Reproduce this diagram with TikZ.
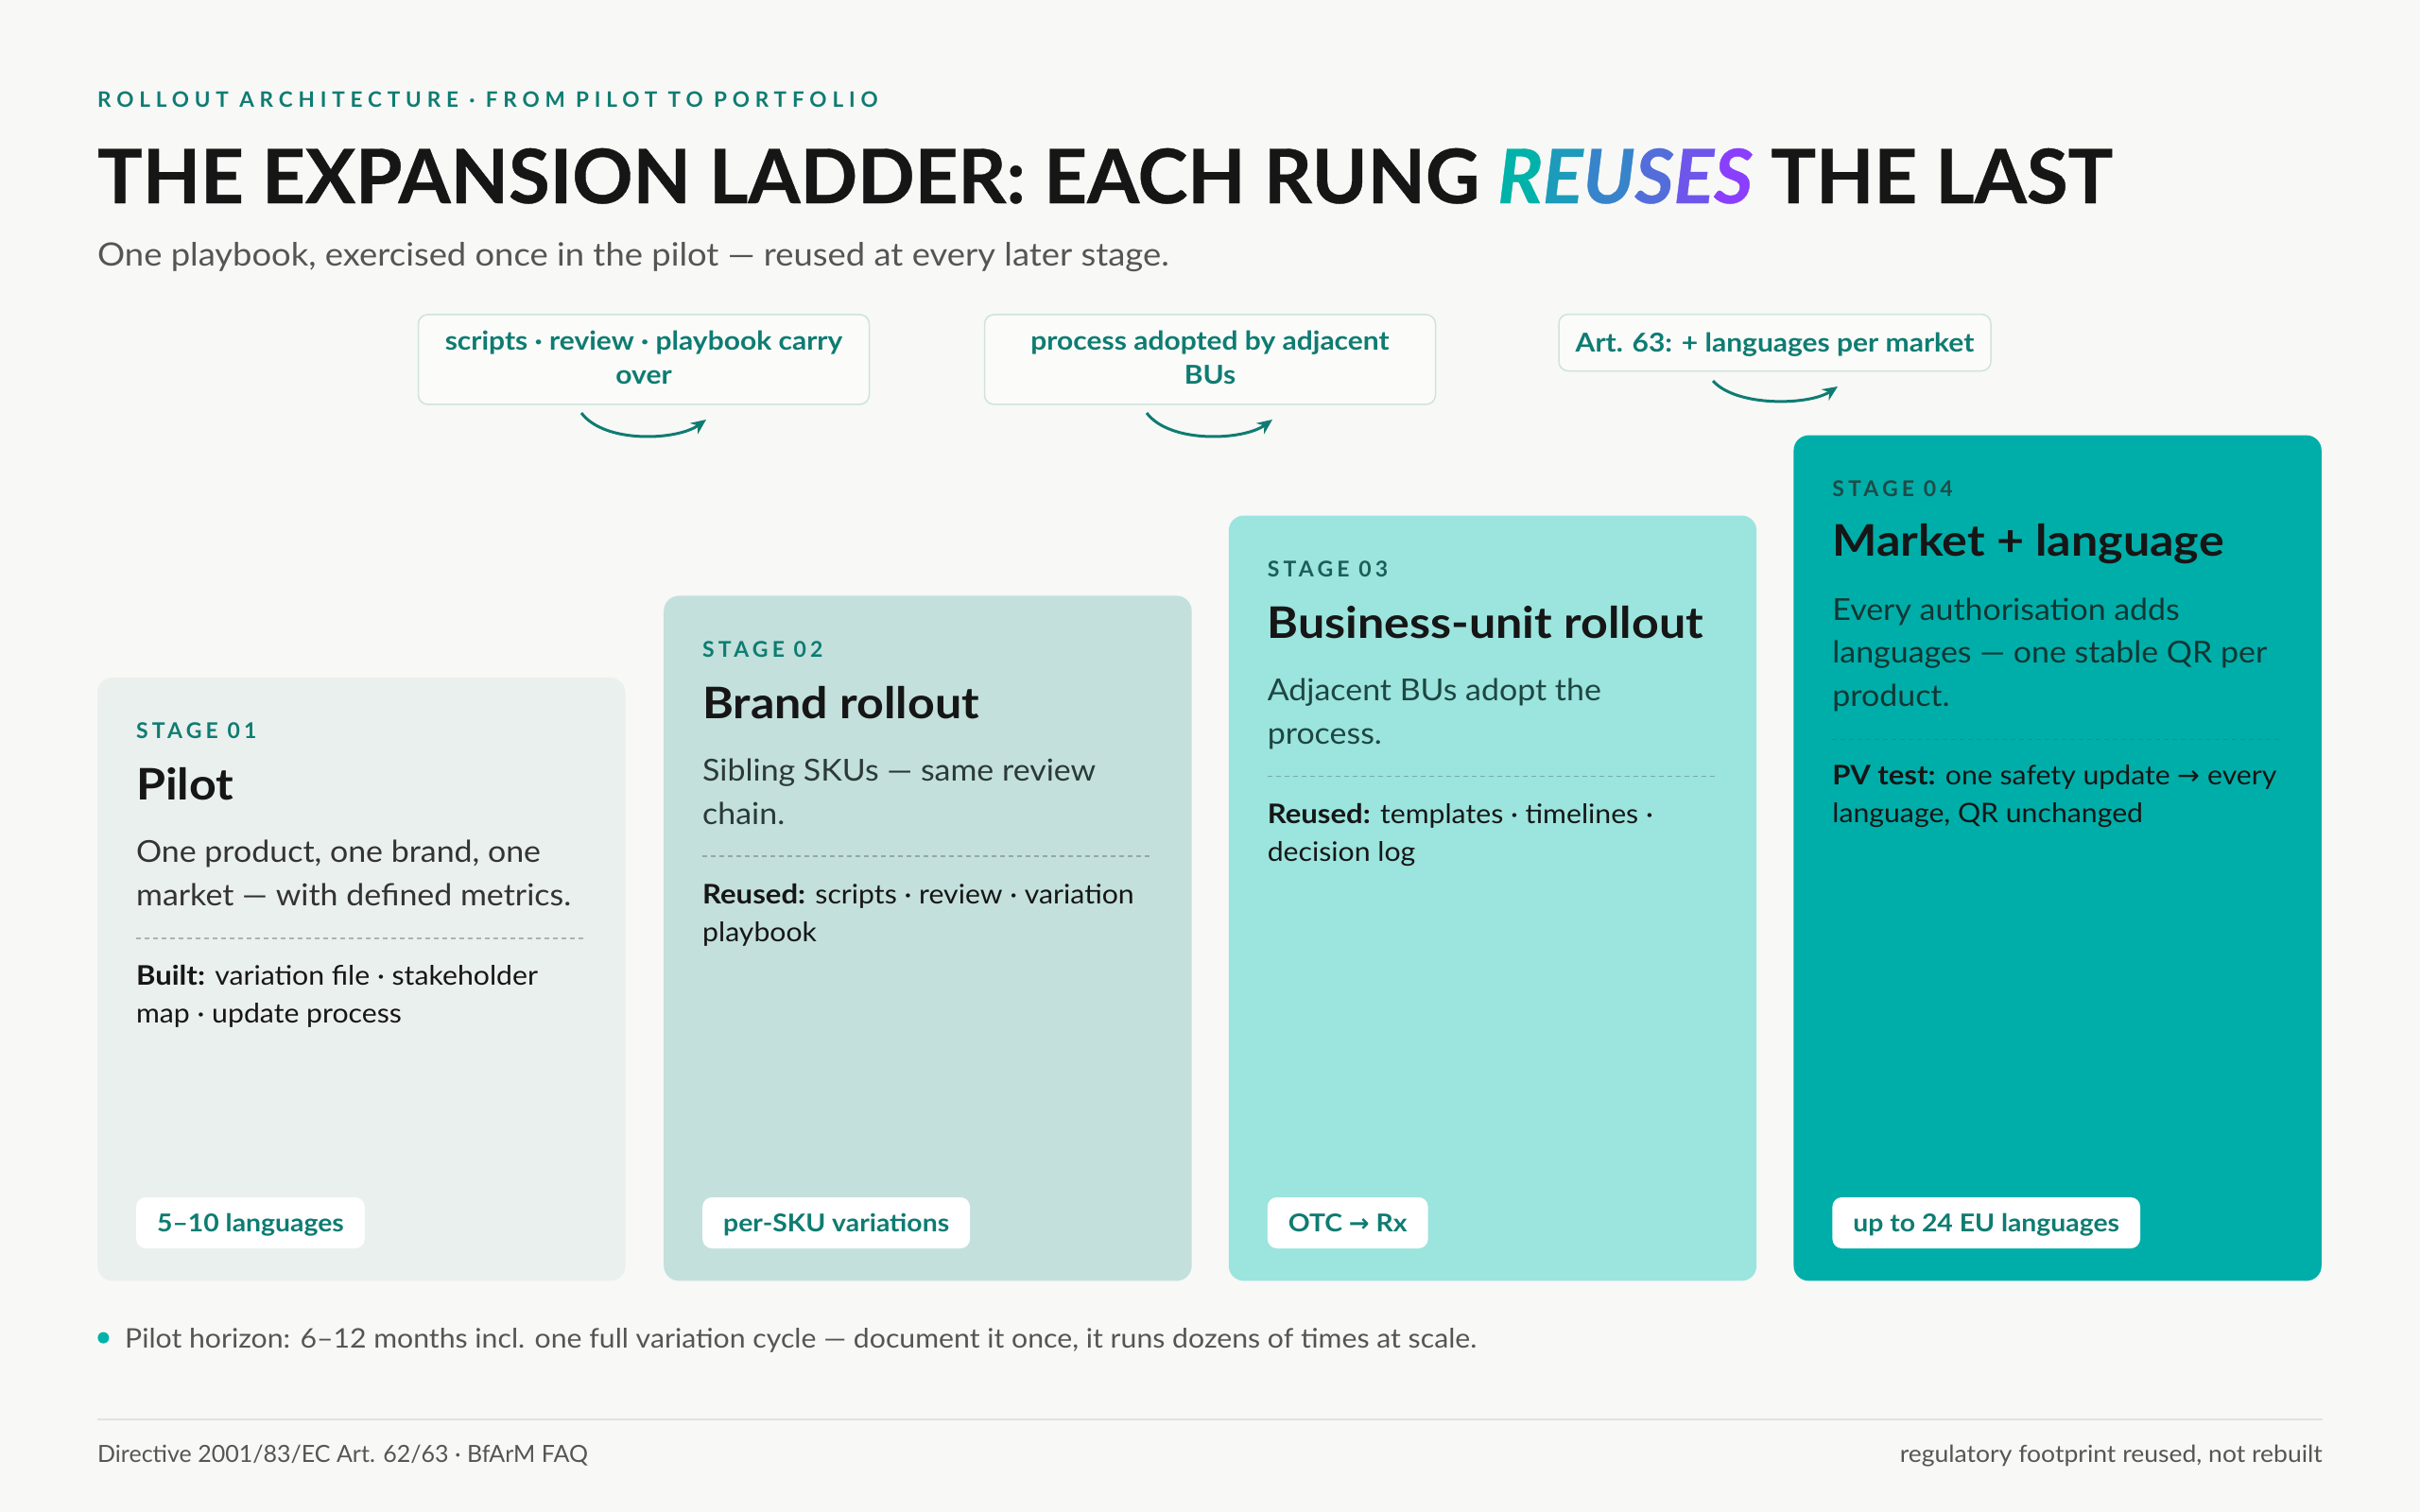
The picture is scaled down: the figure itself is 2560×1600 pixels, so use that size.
\documentclass[tikz,border=0pt]{standalone}
\usepackage{fontspec}
\setmainfont{Lato}[FakeStretch=1.06, BoldFeatures={FakeStretch=1.09}]
\newfontfamily\symfont{DejaVu Sans}
\newfontfamily\spacedfont{Lato}[LetterSpace=26]
\newfontfamily\stagefont{Lato}[LetterSpace=18]
\newfontfamily\headfont{Lato}[FakeBold=0.5]
\newfontfamily\plainfont{Lato}
\usetikzlibrary{arrows.meta}
\definecolor{bg}{HTML}{F8F8F6}
\definecolor{teal}{HTML}{0E7C72}
\definecolor{ink}{HTML}{161616}
\definecolor{subgrey}{HTML}{555555}
\definecolor{cA}{HTML}{EAF0EE}
\definecolor{cB}{HTML}{C3E0DC}
\definecolor{cC}{HTML}{9CE4DE}
\definecolor{cD}{HTML}{00AEA9}
\definecolor{labC}{HTML}{1B5E57}
\definecolor{labD}{HTML}{1F4B48}
\definecolor{dA}{HTML}{333333}
\definecolor{dB}{HTML}{2B3A38}
\definecolor{dC}{HTML}{1D4643}
\definecolor{dD}{HTML}{123734}
\definecolor{coborder}{HTML}{CFE3DE}
\definecolor{cofill}{HTML}{FBFBFA}
\definecolor{rulec}{HTML}{E2E2DF}
\definecolor{dashc}{HTML}{4A5A57}
\definecolor{gA}{HTML}{00B2A9}
\definecolor{gB}{HTML}{8A3FFC}
\colorlet{g0}{gA}
\colorlet{g1}{gB!20!gA}
\colorlet{g2}{gB!40!gA}
\colorlet{g3}{gB!60!gA}
\colorlet{g4}{gB!80!gA}
\colorlet{g5}{gB}
\newcommand\myarrow{{\symfont →}}
\begin{document}
\begin{tikzpicture}[x=1pt,y=-1pt,
  card/.style={rounded corners=16pt, inner sep=0pt, anchor=north west, minimum width=558.4pt},
  txt/.style={inner sep=0pt, anchor=base west},
  lbl/.style={txt, font=\stagefont\bfseries\fontsize{23}{23}\selectfont},
  ttl/.style={txt, text=ink, font=\bfseries\fontsize{46}{46}\selectfont},
  dsc/.style={txt, font=\fontsize{32}{32}\selectfont},
  bld/.style={txt, text=ink, font=\fontsize{28.5}{28.5}\selectfont},
  sep/.style={draw=dashc, draw opacity=0.4, line width=1.5pt, dash pattern=on 5pt off 4pt},
  pill/.style={fill=white, rounded corners=10pt, anchor=west, inner xsep=22pt, inner ysep=0pt,
    minimum height=54pt, text height=22pt, text depth=4pt, text=teal,
    font=\bfseries\fontsize{26}{26}\selectfont},
  callout/.style={draw=coborder, fill=cofill, line width=1.5pt, rounded corners=10pt, inner sep=0pt},
  cotxt/.style={inner sep=0pt, anchor=base, text=teal, font=\bfseries\fontsize{27.5}{27.5}\selectfont},
  flow/.style={draw=teal, line width=3pt, -{Stealth[length=16pt,width=14pt]}},
  foot/.style={inner sep=0pt, text=subgrey, font=\fontsize{25}{25}\selectfont}
]
\useasboundingbox (0,0) rectangle (2560,1600);
\fill[bg] (0,0) rectangle (2560,1600);

% header
\node[txt, text=teal, font=\spacedfont\bfseries\fontsize{22.5}{22.5}\selectfont] (eyebrow) at (103,114)
  {ROLLOUT ARCHITECTURE · FROM PILOT TO PORTFOLIO};
\node[txt, text=ink, font=\headfont\bfseries\fontsize{79.5}{79.5}\selectfont] (title) at (103,215)
  {THE EXPANSION LADDER: EACH RUNG \textit{{\color{g0}R}{\color{g1}E}{\color{g2}U}{\color{g3}S}{\color{g4}E}{\color{g5}S}} THE LAST};
\node[txt, text=subgrey, font=\addfontfeatures{FakeStretch=1.07}\fontsize{34}{34}\selectfont] (subtitle) at (103,281)
  {One playbook, exercised once in the pilot — reused at every later stage.};

% callouts
\node[callout, minimum width=477pt, minimum height=95pt] (co1) at (681,380.4) {};
\node[cotxt] (co1a) at (681,370) {scripts · review · playbook carry};
\node[cotxt] (co1b) at (681,406) {over};
\node[callout, minimum width=477pt, minimum height=95pt] (co2) at (1280,380.4) {};
\node[cotxt] (co2a) at (1280,370) {process adopted by adjacent};
\node[cotxt] (co2b) at (1280,406) {BUs};
\node[callout, minimum width=457pt, minimum height=60pt] (co3) at (1877.5,362.5) {};
\node[cotxt] (co3a) at (1877.5,372) {Art. 63: + languages per market};

\coordinate (a1s) at (615,437); \coordinate (a1e) at (747,444);
\coordinate (a2s) at (1213,437); \coordinate (a2e) at (1346,444);
\coordinate (a3s) at (1812,403); \coordinate (a3e) at (1944,409);
\draw[flow] (a1s) .. controls +(25,33) and +(-30,22) .. (a1e);
\draw[flow] (a2s) .. controls +(25,33) and +(-30,22) .. (a2e);
\draw[flow] (a3s) .. controls +(25,28) and +(-30,20) .. (a3e);

% card 1
\node[card, fill=cA, minimum height=638.4pt] (card1) at (102.9,716.8) {};
\node[lbl, text=teal] (s1) at ([shift={(41,65)}]card1.north west) {STAGE 01};
\node[ttl] (t1) at ([shift={(41,130)}]card1.north west) {Pilot};
\node[dsc, text=dA] (d1a) at ([shift={(41,196)}]card1.north west) {One product, one brand, one};
\node[dsc, text=dA] (d1b) at ([shift={(41,242)}]card1.north west) {market — with defined metrics.};
\draw[sep] ([shift={(41,276)}]card1.north west) -- ([shift={(517,276)}]card1.north west);
\node[bld] (b1a) at ([shift={(41,326)}]card1.north west) {\textbf{Built:} variation file · stakeholder};
\node[bld] (b1b) at ([shift={(41,366)}]card1.north west) {map · update process};
\node[pill] (p1) at (143.9,1294) {5–10 languages};

% card 2
\node[card, fill=cB, minimum height=725pt] (card2) at (702,630.2) {};
\node[lbl, text=teal] (s2) at ([shift={(41,65)}]card2.north west) {STAGE 02};
\node[ttl] (t2) at ([shift={(41,130)}]card2.north west) {Brand rollout};
\node[dsc, text=dB] (d2a) at ([shift={(41,196)}]card2.north west) {Sibling SKUs — same review};
\node[dsc, text=dB] (d2b) at ([shift={(41,242)}]card2.north west) {chain.};
\draw[sep] ([shift={(41,276)}]card2.north west) -- ([shift={(517,276)}]card2.north west);
\node[bld] (b2a) at ([shift={(41,326)}]card2.north west) {\textbf{Reused:} scripts · review · variation};
\node[bld] (b2b) at ([shift={(41,366)}]card2.north west) {playbook};
\node[pill] (p2) at (743,1294) {per-SKU variations};

% card 3
\node[card, fill=cC, minimum height=809.9pt] (card3) at (1299.6,545.3) {};
\node[lbl, text=labC] (s3) at ([shift={(41,65)}]card3.north west) {STAGE 03};
\node[ttl] (t3) at ([shift={(41,130)}]card3.north west) {Business-unit rollout};
\node[dsc, text=dC] (d3a) at ([shift={(41,196)}]card3.north west) {Adjacent BUs adopt the};
\node[dsc, text=dC] (d3b) at ([shift={(41,242)}]card3.north west) {process.};
\draw[sep] ([shift={(41,276)}]card3.north west) -- ([shift={(517,276)}]card3.north west);
\node[bld] (b3a) at ([shift={(41,326)}]card3.north west) {\textbf{Reused:} templates · timelines ·};
\node[bld] (b3b) at ([shift={(41,366)}]card3.north west) {decision log};
\node[pill] (p3) at (1340.6,1294) {OTC \myarrow{} Rx};

% card 4
\node[card, fill=cD, minimum height=894.8pt] (card4) at (1897.2,460.4) {};
\node[lbl, text=labD] (s4) at ([shift={(41,65)}]card4.north west) {STAGE 04};
\node[ttl] (t4) at ([shift={(41,128)}]card4.north west) {Market + language};
\node[dsc, text=dD] (d4a) at ([shift={(41,196)}]card4.north west) {Every authorisation adds};
\node[dsc, text=dD] (d4b) at ([shift={(41,241.5)}]card4.north west) {languages — one stable QR per};
\node[dsc, text=dD] (d4c) at ([shift={(41,287)}]card4.north west) {product.};
\draw[sep] ([shift={(41,322)}]card4.north west) -- ([shift={(517,322)}]card4.north west);
\node[bld] (b4a) at ([shift={(41,370)}]card4.north west) {\textbf{PV test:} one safety update \myarrow{} every};
\node[bld] (b4b) at ([shift={(41,410)}]card4.north west) {language, QR unchanged};
\node[pill] (p4) at (1938.2,1294) {up to 24 EU languages};

% footnote
\node[circle, fill=gA, inner sep=0pt, minimum size=12pt] (dot) at (109.4,1415.6) {};
\node[txt, text=subgrey, font=\fontsize{28.5}{28.5}\selectfont] (note) at (132,1426)
  {Pilot horizon: 6–12 months incl. one full variation cycle — document it once, it runs dozens of times at scale.};
\draw[rulec, line width=2pt] (103,1501.7) -- (2457,1501.7);
\node[foot, anchor=base west, font=\plainfont\fontsize{25}{25}\selectfont] (srcl) at (103,1547) {Directive 2001/83/EC Art. 62/63 · BfArM FAQ};
\node[foot, anchor=base east] (srcr) at (2457,1547) {regulatory footprint reused, not rebuilt};
\end{tikzpicture}
\end{document}
